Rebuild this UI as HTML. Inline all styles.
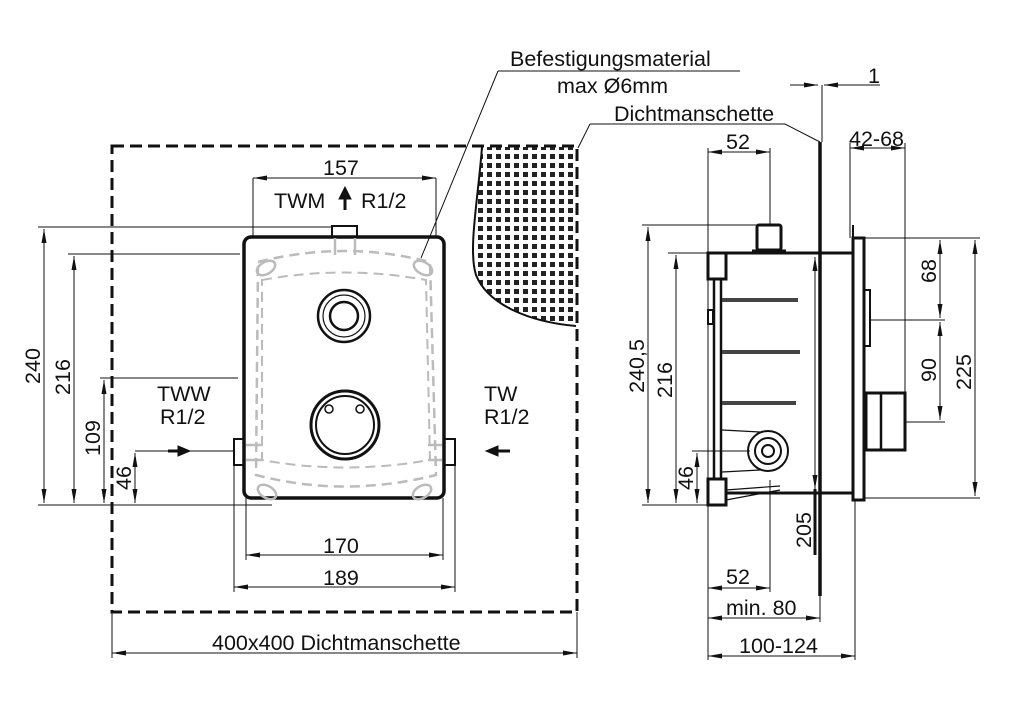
<!DOCTYPE html>
<html><head><meta charset="utf-8"><style>
html,body{margin:0;padding:0;background:#fff;}
svg{display:block;}
text{font-family:"Liberation Sans",Arial,sans-serif;font-size:21.5px;fill:#111;}
</style></head><body>
<svg width="1018" height="725" viewBox="0 0 1018 725" xmlns="http://www.w3.org/2000/svg">
<defs>
<marker id="a" viewBox="0 0 14 6" refX="14" refY="3" markerWidth="14" markerHeight="6" orient="auto-start-reverse" markerUnits="userSpaceOnUse"><path d="M0,0.5 L14,3 L0,5.5 Z" fill="#111"/></marker>
<pattern id="dots" width="9" height="9" patternUnits="userSpaceOnUse"><rect x="1" y="1" width="5" height="5" fill="#222"/></pattern>
</defs>
<g stroke="#111" fill="none">
<path d="M482,147 C478,200 468,250 476,275 C488,305 530,322 576,326 L576,147 Z" fill="url(#dots)" stroke="none"/>
<path d="M482,147 C478,200 468,250 476,275 C488,305 530,322 576,326" stroke-width="2"/>
<rect x="112" y="146" width="465" height="466" stroke-width="3" stroke-dasharray="12,6"/>
<path d="M498,71 L740,71 M498,71 L421,258" stroke-width="1"/>
<path d="M590,124 L785,124 L820,142 M590,124 L578,148" stroke-width="1"/>
<rect x="244" y="237" width="200" height="261" rx="7" stroke-width="3.5"/>
<rect x="332" y="226" width="25" height="11" stroke-width="2"/>
<rect x="234" y="439" width="10" height="26" stroke-width="2"/>
<rect x="444" y="439" width="11" height="26" stroke-width="2"/>
<g stroke="#bbb" stroke-width="2.5">
<path d="M258,262 Q344,240 430,262 L436,475 Q344,498 256,475 Z" stroke-dasharray="10,6"/>
<path d="M262,280 Q344,265 426,280 L430,460 Q344,475 262,460 Z" stroke-dasharray="10,6" stroke-width="2"/>
<ellipse cx="266" cy="268" rx="10" ry="6" transform="rotate(-30 266 268)"/>
<ellipse cx="423" cy="268" rx="10" ry="6" transform="rotate(30 423 268)"/>
<ellipse cx="267" cy="492" rx="10" ry="6" transform="rotate(30 267 492)"/>
<ellipse cx="422" cy="492" rx="10" ry="6" transform="rotate(-30 422 492)"/>
<path d="M335,238 L335,255 M355,238 L355,255 M246,445 L262,445 M246,460 L262,460 M428,445 L442,445 M428,460 L442,460"/>
</g>
<circle cx="344" cy="316" r="26" stroke-width="2.5"/>
<circle cx="344" cy="316" r="21" stroke-width="1.2"/>
<circle cx="344" cy="316" r="14" stroke-width="2.5"/>
<circle cx="345" cy="425" r="34" stroke-width="3"/>
<circle cx="345" cy="425" r="29" stroke-width="2"/>
<circle cx="329" cy="409" r="4" stroke-width="1.5"/>
<circle cx="360" cy="409" r="4" stroke-width="1.5"/>
<g stroke-width="1">
<path d="M253,178 L253,237 M436,178 L436,237"/>
<path d="M253,178 L436,178" marker-start="url(#a)" marker-end="url(#a)"/>
<path d="M38,227 L332,227 M68,254 L240,254 M100,378 L238,378 M135,451 L234,451 M38,505 L272,505"/>
<path d="M44,229 L44,503" marker-start="url(#a)" marker-end="url(#a)"/>
<path d="M74,256 L74,503" marker-start="url(#a)" marker-end="url(#a)"/>
<path d="M104,380 L104,503" marker-start="url(#a)" marker-end="url(#a)"/>
<path d="M135,453 L135,503" marker-start="url(#a)" marker-end="url(#a)"/>
<path d="M234,465 L234,592 M246,498 L246,560 M443,498 L443,560 M455,465 L455,592"/>
<path d="M246,555 L443,555" marker-start="url(#a)" marker-end="url(#a)"/>
<path d="M234,587 L455,587" marker-start="url(#a)" marker-end="url(#a)"/>
<path d="M112,612 L112,658 M577,612 L577,658"/>
<path d="M112,653 L577,653" marker-start="url(#a)" marker-end="url(#a)"/>
</g>
<path d="M168,451 L178,451" stroke-width="3"/><path d="M178,446 L190,451 L178,456 Z" fill="#111" stroke-width="1"/>
<path d="M498,451 L510,451" stroke-width="3"/><path d="M498,446 L486,451 L498,456 Z" fill="#111" stroke-width="1"/>
<path d="M345,210 L345,198" stroke-width="3"/><path d="M339,199 L345,187 L351,199 Z" fill="#111" stroke-width="1"/>

<path d="M820,142 L820,596" stroke-width="3.5"/>
<path d="M822,85 L822,142" stroke-width="1"/>
<path d="M790,85 L818,85" stroke-width="1" marker-end="url(#a)"/>
<path d="M880,85 L824,85" stroke-width="1" marker-end="url(#a)"/>
<path d="M726,253 L853,253 M726,493 L853,493" stroke-width="3"/>
<rect x="708" y="253" width="18" height="26" stroke-width="3"/>
<rect x="708" y="479" width="18" height="26" stroke-width="3"/>
<rect x="714" y="279" width="7" height="200" stroke-width="2.5"/>
<rect x="708" y="310" width="5" height="14" stroke-width="2"/>
<rect x="757" y="225" width="24" height="25" rx="2" stroke-width="3"/>
<path d="M752,252 L786,252" stroke-width="5"/>
<path d="M722,300 L798,300 M722,352 L800,352 M722,403 L796,403" stroke-width="4" stroke="#444"/>
<path d="M722,430 L760,432 M722,472 L760,470 M726,490 L780,486 M726,500 L780,490" stroke-width="1.2"/>
<circle cx="768" cy="451" r="20" stroke-width="2"/>
<circle cx="768" cy="451" r="13" stroke-width="2"/>
<circle cx="768" cy="451" r="6" stroke-width="2"/>
<path d="M853,225 L853,500" stroke-width="2"/>
<rect x="853" y="238" width="11" height="262" stroke-width="3"/>
<rect x="864" y="290" width="6" height="56" stroke-width="2"/>
<rect x="866" y="393" width="39" height="57" stroke-width="3"/>
<path d="M881,393 L881,450" stroke-width="2.5"/>
<g stroke-width="1">
<path d="M815,257 L815,489" marker-start="url(#a)" marker-end="url(#a)"/>
<path d="M815,489 L815,555" stroke-width="3"/>
<path d="M708,148 L708,660 M770,148 L770,225 M770,480 L770,592 M850,143 L850,238 M905,143 L905,393 M855,500 L855,660"/>
<path d="M708,152 L770,152" marker-start="url(#a)" marker-end="url(#a)"/>
<path d="M850,148 L905,148" marker-start="url(#a)" marker-end="url(#a)"/>
<path d="M642,225 L757,225 M668,253 L708,253 M692,451 L750,451 M642,505 L708,505"/>
<path d="M648,227 L648,503" marker-start="url(#a)" marker-end="url(#a)"/>
<path d="M676,255 L676,503" marker-start="url(#a)" marker-end="url(#a)"/>
<path d="M697,453 L697,503" marker-start="url(#a)" marker-end="url(#a)"/>
<path d="M864,238 L980,238 M870,320 L945,320 M905,422 L945,422 M864,498 L980,498"/>
<path d="M940,240 L940,318" marker-start="url(#a)" marker-end="url(#a)"/>
<path d="M940,322 L940,420" marker-start="url(#a)" marker-end="url(#a)"/>
<path d="M975,240 L975,496" marker-start="url(#a)" marker-end="url(#a)"/>
<path d="M708,588 L770,588" marker-start="url(#a)" marker-end="url(#a)"/>
<path d="M708,618 L820,618" marker-start="url(#a)" marker-end="url(#a)"/>
<path d="M820,596 L820,622"/>
<path d="M708,656 L855,656" marker-start="url(#a)" marker-end="url(#a)"/>
</g>
</g>
<text x="510" y="66">Befestigungsmaterial</text>
<text x="557" y="93">max Ø6mm</text>
<text x="614" y="121">Dichtmanschette</text>
<text x="868" y="83">1</text>
<text x="323" y="175">157</text>
<text x="274" y="208">TWM</text>
<text x="361" y="208">R1/2</text>
<text x="157" y="401">TWW</text>
<text x="160" y="424">R1/2</text>
<text x="484" y="401">TW</text>
<text x="484" y="424">R1/2</text>
<text x="323" y="553">170</text>
<text x="323" y="585">189</text>
<text x="212" y="650">400x400  Dichtmanschette</text>
<text transform="translate(40,366) rotate(-90)" text-anchor="middle">240</text>
<text transform="translate(70,377) rotate(-90)" text-anchor="middle">216</text>
<text transform="translate(100,438) rotate(-90)" text-anchor="middle">109</text>
<text transform="translate(131,478) rotate(-90)" text-anchor="middle">46</text>
<text x="726" y="149">52</text>
<text x="849" y="146">42-68</text>
<text transform="translate(644,366) rotate(-90)" text-anchor="middle">240,5</text>
<text transform="translate(672,380) rotate(-90)" text-anchor="middle">216</text>
<text transform="translate(693,478) rotate(-90)" text-anchor="middle">46</text>
<text transform="translate(811,530) rotate(-90)" text-anchor="middle">205</text>
<text transform="translate(936,271) rotate(-90)" text-anchor="middle">68</text>
<text transform="translate(936,370) rotate(-90)" text-anchor="middle">90</text>
<text transform="translate(971,372) rotate(-90)" text-anchor="middle">225</text>
<text x="726" y="584">52</text>
<text x="726" y="615">min. 80</text>
<text x="739" y="653">100-124</text>
</svg>
</body></html>
